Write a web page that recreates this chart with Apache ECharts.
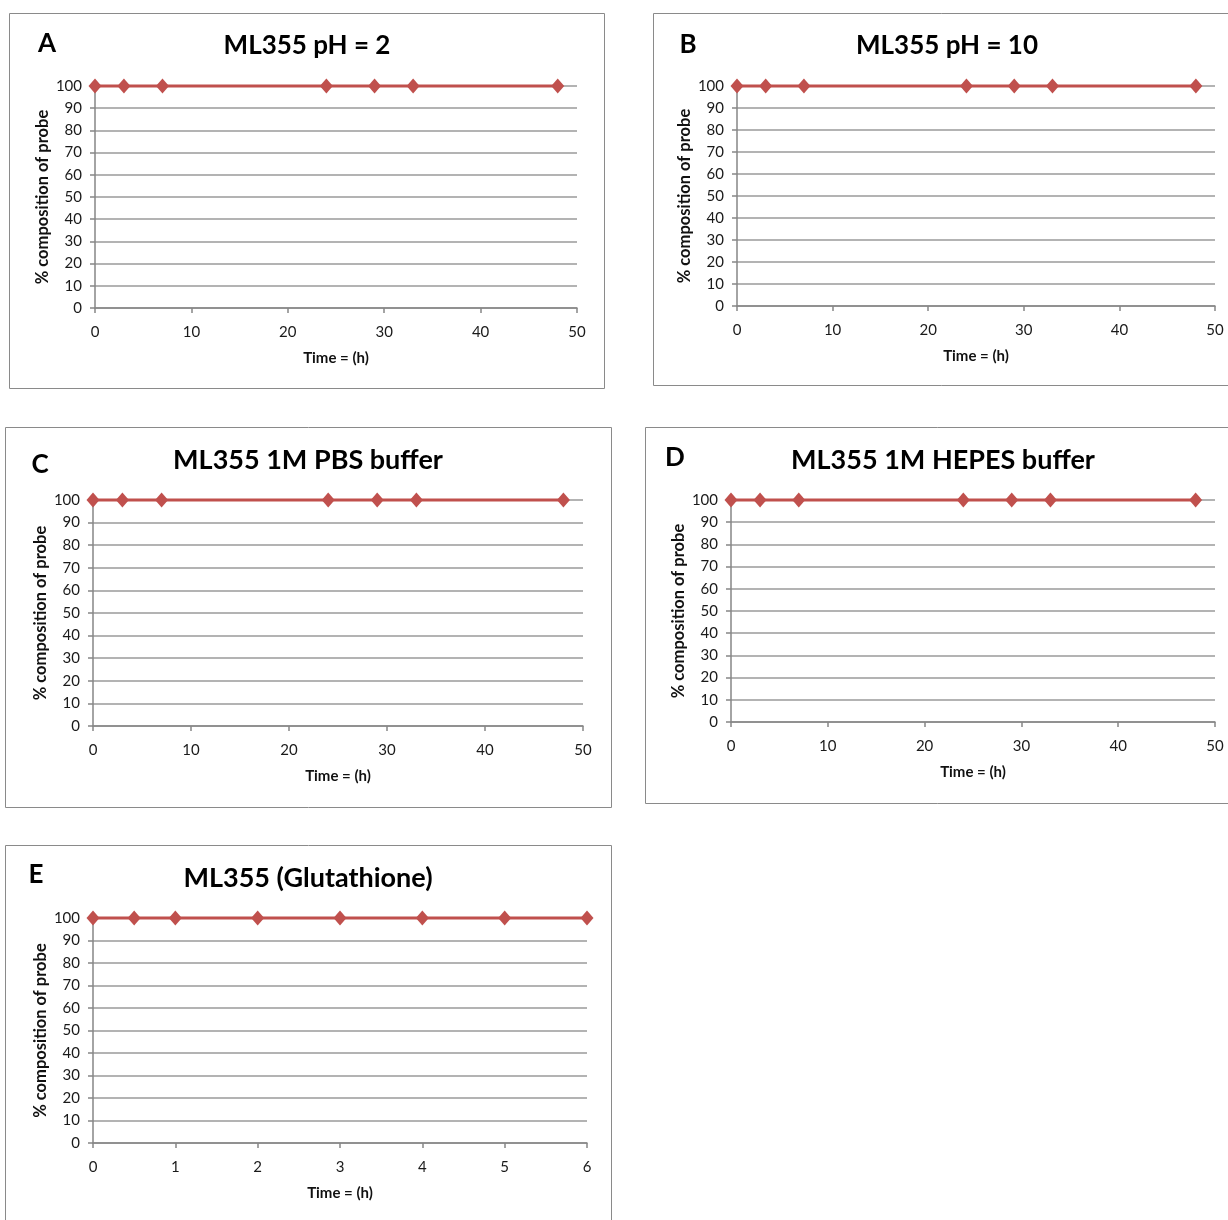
<!DOCTYPE html>
<html>
<head>
<meta charset="utf-8">
<script src="https://cdn.jsdelivr.net/npm/echarts@6/dist/echarts.min.js"></script>
<style>
html,body{margin:0;padding:0;background:#fff;}
#chart{width:1228px;height:1220px;}
</style>
</head>
<body>
<div id="chart"></div>
<script>
// ---- data ----
const panelLetters = ['A', 'B', 'C', 'D', 'E'];
const panelTitles = ['ML355 pH = 2', 'ML355 pH = 10', 'ML355 1M PBS buffer', 'ML355 1M HEPES buffer', 'ML355 (Glutathione)'];
const timesA = [0, 3, 7, 24, 29, 33, 48];
const valuesA = [100, 100, 100, 100, 100, 100, 100];
const timesB = [0, 3, 7, 24, 29, 33, 48];
const valuesB = [100, 100, 100, 100, 100, 100, 100];
const timesC = [0, 3, 7, 24, 29, 33, 48];
const valuesC = [100, 100, 100, 100, 100, 100, 100];
const timesD = [0, 3, 7, 24, 29, 33, 48];
const valuesD = [100, 100, 100, 100, 100, 100, 100];
const timesE = [0, 0.5, 1, 2, 3, 4, 5, 6];
const valuesE = [100, 100, 100, 100, 100, 100, 100, 100];
const xMaxes = [50, 50, 50, 50, 6];
const xIntervals = [10, 10, 10, 10, 1];
const xAxisName = 'Time = (h)';
const yAxisName = '% composition of probe';

// ---- layout ----
const FONT = 'Lato, "Open Sans", sans-serif';
const grids = [
  {left: 95, top: 86, width: 482, height: 222},
  {left: 737, top: 86, width: 478, height: 220},
  {left: 93, top: 500, width: 490, height: 226},
  {left: 731, top: 500, width: 484, height: 222},
  {left: 93, top: 918, width: 494, height: 225}
];
const borders = [
  [9, 13, 595, 375],
  [653, 13, 580, 372],
  [5, 427, 606, 380],
  [645, 427, 588, 376],
  [5, 845, 606, 380]
];
const titlePos = [[307, 46], [947, 46], [308, 460], [943, 460], [308, 878]];
const titleSizes = [26, 26, 27, 27, 27];
const letterPos = [[47, 44], [688, 45], [40, 465], [675, 458], [36, 875]];

const seriesData = [
  [timesA, valuesA], [timesB, valuesB], [timesC, valuesC], [timesD, valuesD], [timesE, valuesE]
];

const chart = echarts.init(document.getElementById('chart'), null, {renderer: 'canvas'});

const graphic = [];
borders.forEach(b => {
  graphic.push({type: 'rect', shape: {x: b[0] + 0.5, y: b[1] + 0.5, width: b[2], height: b[3]},
    style: {fill: 'none', stroke: '#8a8a8a', lineWidth: 1}, silent: true, z: 0});
});
panelTitles.forEach((t, i) => {
  graphic.push({type: 'text', x: titlePos[i][0], y: titlePos[i][1],
    style: {text: t, font: 'bold ' + titleSizes[i] + 'px ' + FONT, fill: '#000', textAlign: 'center', textVerticalAlign: 'middle'}});
});
panelLetters.forEach((t, i) => {
  graphic.push({type: 'text', x: letterPos[i][0], y: letterPos[i][1],
    style: {text: t, font: 'bold 26px ' + FONT, fill: '#000', textAlign: 'center', textVerticalAlign: 'middle'}});
});

const option = {
  backgroundColor: '#fff',
  animation: false,
  grid: grids.map(g => Object.assign({containLabel: false}, g)),
  xAxis: grids.map((g, i) => ({
    type: 'value', gridIndex: i, min: 0, max: xMaxes[i], interval: xIntervals[i],
    name: xAxisName, nameLocation: 'middle', nameGap: 43,
    nameTextStyle: {fontFamily: FONT, fontWeight: 'bold', fontSize: 15, color: '#111'},
    axisLine: {show: true, onZero: false, lineStyle: {color: '#868686', width: 1.5}},
    axisTick: {show: true, inside: false, length: 5, lineStyle: {color: '#868686', width: 1.5}},
    axisLabel: {margin: 17, fontFamily: FONT, fontSize: 15, color: '#1a1a1a'},
    splitLine: {show: false}
  })),
  yAxis: grids.map((g, i) => ({
    type: 'value', gridIndex: i, min: 0, max: 100, interval: 10,
    name: yAxisName, nameLocation: 'middle', nameGap: 44, nameRotate: 90,
    nameTextStyle: {fontFamily: FONT, fontWeight: 'bold', fontSize: 16.5, color: '#111'},
    axisLine: {show: true, onZero: false, lineStyle: {color: '#868686', width: 1.5}},
    axisTick: {show: true, inside: false, length: 5, lineStyle: {color: '#868686', width: 1.5}},
    axisLabel: {margin: 13, fontFamily: FONT, fontSize: 15, color: '#1a1a1a'},
    splitLine: {show: true, lineStyle: {color: '#9a9a9a', width: 1.5}}
  })),
  series: seriesData.map((d, i) => ({
    type: 'line', xAxisIndex: i, yAxisIndex: i,
    data: d[0].map((x, k) => [x, d[1][k]]),
    symbol: 'diamond', symbolSize: [13, 15],
    lineStyle: {color: '#C0504D', width: 3},
    itemStyle: {color: '#C0504D'},
    clip: false, z: 5
  })),
  graphic: graphic
};
chart.setOption(option);
</script>
</body>
</html>
